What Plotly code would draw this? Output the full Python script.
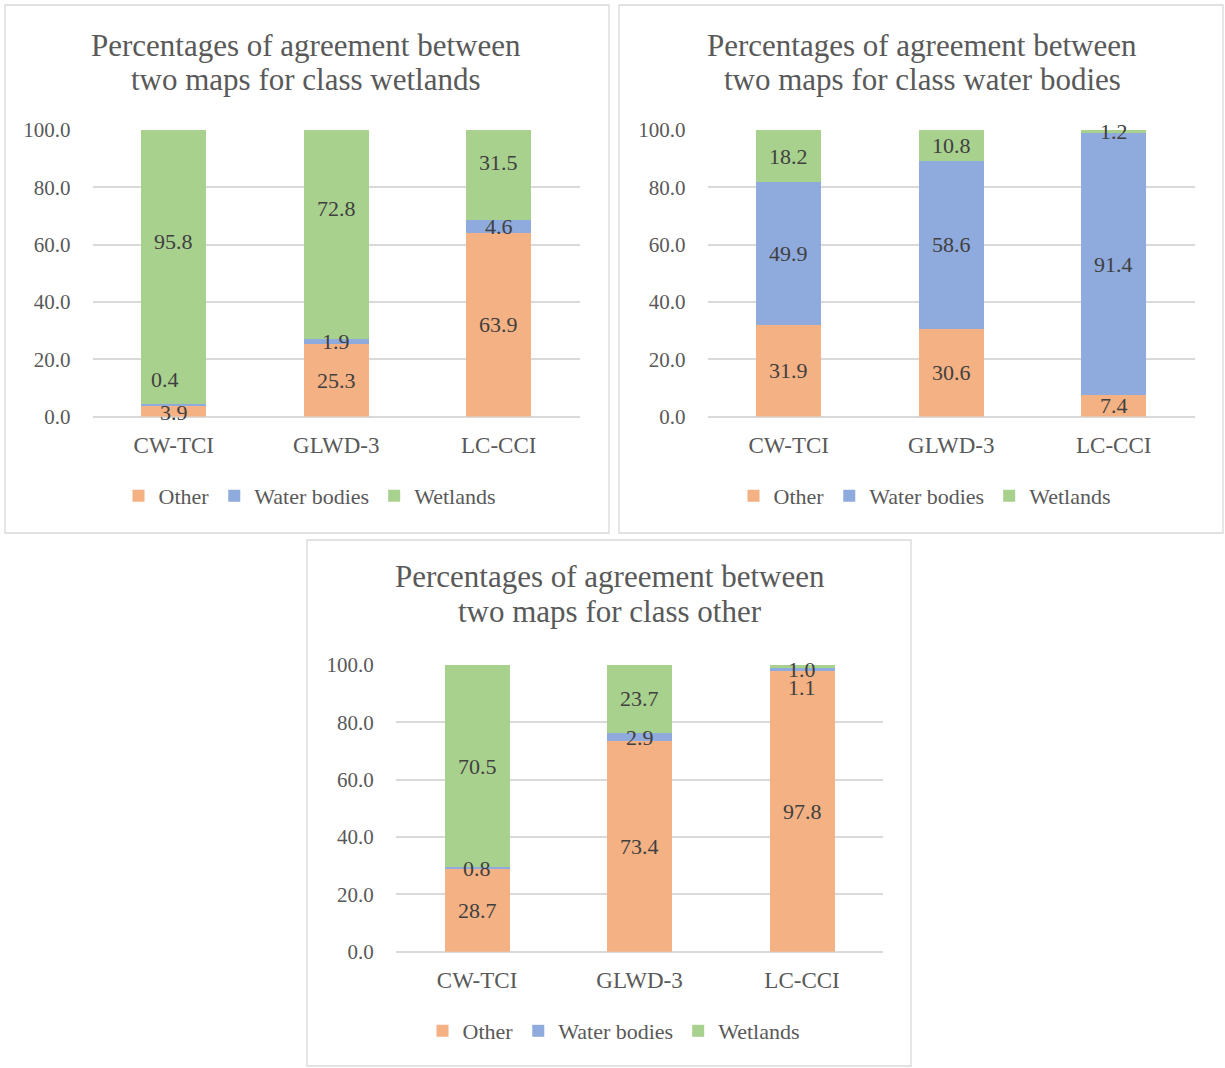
import plotly.graph_objects as go

# ---------------- data ----------------
categories = ["CW-TCI", "GLWD-3", "LC-CCI"]
series_names = ["Other", "Water bodies", "Wetlands"]

titles = [
    ["Percentages of agreement between", "two maps for class wetlands"],
    ["Percentages of agreement between", "two maps for class water bodies"],
    ["Percentages of agreement between", "two maps for class other"],
]

wetlands_other = [3.9, 25.3, 63.9]
wetlands_water = [0.4, 1.9, 4.6]
wetlands_wet = [95.8, 72.8, 31.5]

water_other = [31.9, 30.6, 7.4]
water_water = [49.9, 58.6, 91.4]
water_wet = [18.2, 10.8, 1.2]

other_other = [28.7, 73.4, 97.8]
other_water = [0.8, 2.9, 1.1]
other_wet = [70.5, 23.7, 1.0]

panels_data = [
    [wetlands_other, wetlands_water, wetlands_wet],
    [water_other, water_water, water_wet],
    [other_other, other_water, other_wet],
]

# ---------------- styles / layout ----------------
W, H = 1225, 1068
colors = ["#F4B183", "#8FAADC", "#A9D18E"]
FONT = "Liberation Serif"
TXT = "#595959"
LBL = "#404040"
GRID = "#D9D9D9"

# panel geometry in pixels (left, top, right, bottom) for border and plot area
borders = [(5, 5, 609, 533), (619, 5, 1223, 533), (307, 540, 911, 1066)]
plots = [(92.5, 130, 580, 416.5), (707.5, 130, 1195, 416.5), (395.8, 665, 883.3, 951.7)]
title_centers = [(306, 45, 80), (922, 45, 80), (610, 576, 611)]
legend_pos = [(310, 496), (925, 496), (614, 1031)]

# manual label nudges in pixels (dx, dy up) to mimic the reference placement
nudges = {
    (0, "Wetlands", "CW-TCI"): (0, 25),
    (0, "Water bodies", "CW-TCI"): (-9, 25),
    (0, "Other", "CW-TCI"): (0, -2),
    (0, "Wetlands", "GLWD-3"): (0, 26),
    (0, "Wetlands", "LC-CCI"): (0, 13),
    (2, "Water bodies", "LC-CCI"): (0, -18),
    (2, "Wetlands", "LC-CCI"): (0, -3),
}


def px_x(v):
    return v / W


def px_y(v):
    return 1 - v / H


fig = go.Figure()
annotations = []
shapes = []
layout_axes = {}

for p, data in enumerate(panels_data):
    sfx = "" if p == 0 else str(p + 1)
    xa, ya = "x" + sfx, "y" + sfx
    leg = "legend" + sfx
    for s, name in enumerate(series_names):
        fig.add_trace(go.Bar(
            x=categories, y=data[s], name=name,
            marker=dict(color=colors[s], line=dict(width=0)),
            xaxis=xa, yaxis=ya, legend=leg,
            hoverinfo="x+y+name",
        ))
    # data labels at segment centres
    base = [0.0] * len(categories)
    for s, name in enumerate(series_names):
        for c, cat in enumerate(categories):
            v = data[s][c]
            mid = base[c] + v / 2
            dx, dy = nudges.get((p, name, cat), (0, 0))
            annotations.append(dict(
                x=cat, y=mid, xref=xa, yref=ya, text=f"{v:.1f}",
                showarrow=False, xshift=dx, yshift=dy,
                font=dict(family=FONT, size=22, color=LBL),
                xanchor="center", yanchor="middle",
            ))
            base[c] += v

    l, t, r, b = plots[p]
    layout_axes["xaxis" + sfx] = dict(
        domain=[px_x(l), px_x(r)], anchor=ya, showgrid=False, zeroline=False,
        showline=False, ticks="", tickfont=dict(family=FONT, size=23, color=TXT),
        ticklabelstandoff=12, fixedrange=True, automargin=False,
    )
    layout_axes["yaxis" + sfx] = dict(
        domain=[px_y(b), px_y(t)], anchor=xa, range=[0, 100],
        tickvals=[0, 20, 40, 60, 80, 100], tickformat=".1f",
        showgrid=True, gridcolor=GRID, gridwidth=1.5,
        zeroline=True, zerolinecolor=GRID, zerolinewidth=1.5,
        showline=False, ticks="", tickfont=dict(family=FONT, size=21, color=TXT),
        ticklabelstandoff=21, fixedrange=True, automargin=False,
    )
    lx, ly = legend_pos[p]
    layout_axes[leg] = dict(
        orientation="h", x=px_x(lx), y=px_y(ly), xanchor="center", yanchor="middle",
        font=dict(family=FONT, size=22, color=TXT), traceorder="normal",
        bgcolor="rgba(0,0,0,0)",
    )
    # panel border
    bl, bt, br, bb = borders[p]
    shapes.append(dict(type="rect", xref="paper", yref="paper",
                       x0=px_x(bl), x1=px_x(br), y0=px_y(bb), y1=px_y(bt),
                       line=dict(color=GRID, width=1.3), fillcolor="rgba(0,0,0,0)",
                       layer="below"))
    # title (two lines)
    tx, ty1, ty2 = title_centers[p]
    for line_text, ty in zip(titles[p], (ty1, ty2)):
        annotations.append(dict(
            x=px_x(tx), y=px_y(ty), xref="paper", yref="paper", text=line_text,
            showarrow=False, xanchor="center", yanchor="middle",
            font=dict(family=FONT, size=31, color=TXT),
        ))

fig.update_layout(
    width=W, height=H,
    margin=dict(l=0, r=0, t=0, b=0, pad=0, autoexpand=False),
    paper_bgcolor="white", plot_bgcolor="white",
    barmode="stack", bargap=0.6, showlegend=True,
    annotations=annotations, shapes=shapes,
    font=dict(family=FONT, color=TXT),
    **layout_axes,
)

fig.write_html("out.html")
